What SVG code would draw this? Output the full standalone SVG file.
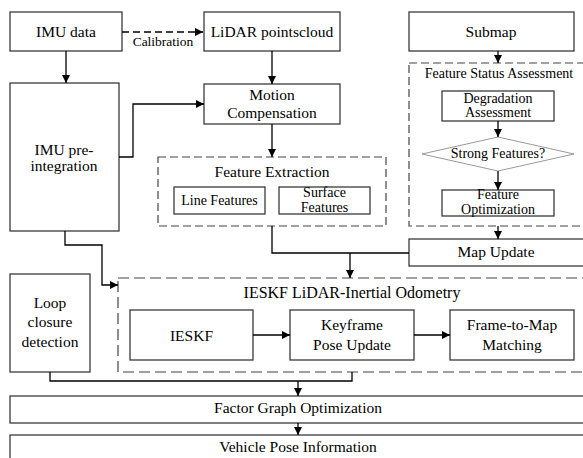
<svg xmlns="http://www.w3.org/2000/svg" width="583" height="458" viewBox="0 0 583 458">
<defs>
<marker id="ah" markerUnits="userSpaceOnUse" markerWidth="9" markerHeight="8" refX="8" refY="4" orient="auto">
<path d="M0,0 L8,4 L0,8 Z" fill="#000"/>
</marker>
<style>
.b{fill:#fff;stroke:#3a3a3a;stroke-width:1.3}
.d{fill:none;stroke:#444;stroke-width:1.2;stroke-dasharray:8 4}
.t{font-family:"Liberation Serif","Times New Roman",serif;font-size:15.5px;fill:#000;text-anchor:middle}
.s{font-family:"Liberation Serif","Times New Roman",serif;font-size:14px;fill:#000;text-anchor:middle}
.c{fill:none;stroke:#000;stroke-width:1.3}
</style>
</defs>
<rect width="583" height="458" fill="#fff"/>

<g id="imu-data"><rect class="b" x="10" y="12" width="112" height="39"/><text class="t" x="66" y="37">IMU data</text></g>
<g id="lidar"><rect class="b" x="204" y="12" width="136" height="39"/><text class="t" x="272" y="37">LiDAR pointscloud</text></g>
<g id="submap"><rect class="b" x="409" y="12" width="165" height="39"/><text class="t" x="491" y="37">Submap</text></g>
<g id="imu-preint"><rect class="b" x="10" y="83" width="109" height="148"/><text class="t" x="64" y="155">IMU pre-</text><text class="t" x="64" y="171">integration</text></g>
<g id="motion"><rect class="b" x="204" y="84" width="136" height="40"/><text class="t" x="272" y="100">Motion</text><text class="t" x="272" y="118">Compensation</text></g>

<g id="feature-extraction"><rect class="d" x="158" y="157" width="228" height="69"/><text class="t" x="272" y="177">Feature Extraction</text>
<g id="line-features"><rect class="b" x="174" y="187" width="91" height="27"/><text class="s" x="219.5" y="205">Line Features</text></g>
<g id="surface-features"><rect class="b" x="279" y="187" width="91" height="27"/><text class="s" x="324.5" y="197">Surface</text><text class="s" x="324.5" y="212">Features</text></g>
</g>

<g id="feature-status"><rect class="d" x="409" y="63" width="190" height="163"/><text class="s" x="499" y="78">Feature Status Assessment</text>
<g id="degradation"><rect class="b" x="442" y="91" width="112" height="30"/><text class="s" x="498" y="103">Degradation</text><text class="s" x="498" y="117">Assessment</text></g>
<g id="strong"><path d="M498,137 L574,154 L498,171 L422,154 Z" fill="#fff" stroke="#999" stroke-width="1"/><text class="s" x="498" y="158">Strong Features?</text></g>
<g id="feature-opt"><rect class="b" x="442" y="190" width="112" height="26"/><text class="s" x="498" y="199">Feature</text><text class="s" x="498" y="214">Optimization</text></g>
</g>

<g id="map-update"><rect class="b" x="409" y="239" width="190" height="27"/><text class="t" x="496" y="257">Map Update</text></g>
<g id="loop"><rect class="b" x="10" y="274" width="80" height="98"/><text class="t" x="50" y="308">Loop</text><text class="t" x="50" y="327">closure</text><text class="t" x="50" y="347">detection</text></g>

<g id="ieskf-lio"><rect class="d" x="118" y="278" width="481" height="94" style="stroke-dasharray:11 5"/><text class="t" x="352" y="298" style="font-size:16px">IESKF LiDAR-Inertial Odometry</text>
<g id="ieskf"><rect class="b" x="130" y="310" width="123" height="50"/><text class="t" x="191.5" y="341">IESKF</text></g>
<g id="keyframe"><rect class="b" x="290" y="310" width="124" height="50"/><text class="t" x="352" y="330">Keyframe</text><text class="t" x="352" y="350">Pose Update</text></g>
<g id="frame-to-map"><rect class="b" x="450" y="310" width="124" height="50"/><text class="t" x="512" y="330">Frame-to-Map</text><text class="t" x="512" y="350">Matching</text></g>
</g>

<g id="factor-graph"><rect class="b" x="10" y="396" width="589" height="27"/><text class="t" x="298" y="413">Factor Graph Optimization</text></g>
<g id="vehicle-pose"><rect class="b" x="10" y="435" width="589" height="40"/><text class="t" x="298" y="452">Vehicle Pose Information</text></g>

<g id="connectors">
<path class="c" d="M122,32 H203" style="stroke-dasharray:7 4" marker-end="url(#ah)"/>
<text class="s" x="163" y="46" style="font-size:13.5px">Calibration</text>
<path class="c" d="M66,51 V83" marker-end="url(#ah)"/>
<path class="c" d="M272,51 V84" marker-end="url(#ah)"/>
<path class="c" d="M119,157 H133 V104 H204" marker-end="url(#ah)"/>
<path class="c" d="M272,124 V157" marker-end="url(#ah)"/>
<path class="c" d="M272,226 V253 H409"/>
<path class="c" d="M350,253 V278" marker-end="url(#ah)"/>
<path class="c" d="M498,51 V63" marker-end="url(#ah)"/>
<path class="c" d="M498,121 V137" marker-end="url(#ah)"/>
<path class="c" d="M498,171 V190" marker-end="url(#ah)"/>
<path class="c" d="M498,226 V239" marker-end="url(#ah)"/>
<path class="c" d="M65,231 V245 H102 V285 H118" marker-end="url(#ah)"/>
<path class="c" d="M253,335 H290" marker-end="url(#ah)"/>
<path class="c" d="M414,335 H450" marker-end="url(#ah)"/>
<path class="c" d="M50,372 V381 H352 V372"/>
<path class="c" d="M298,381 V396" marker-end="url(#ah)"/>
<path class="c" d="M298,423 V435" marker-end="url(#ah)"/>
</g>
</svg>
